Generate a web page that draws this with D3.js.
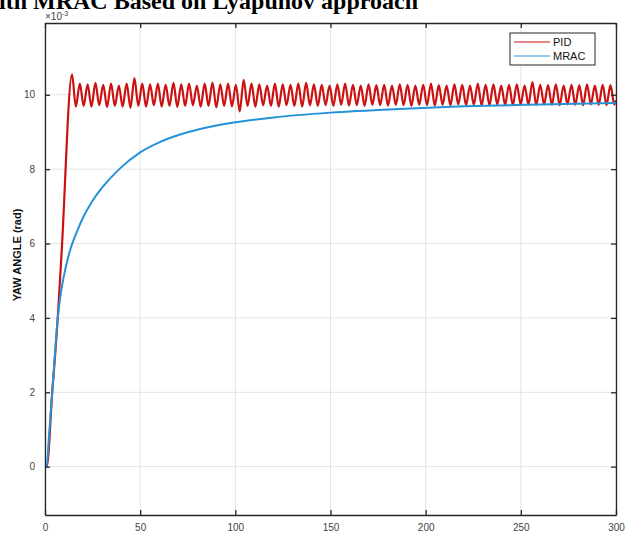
<!DOCTYPE html>
<html><head><meta charset="utf-8">
<script src="https://cdn.jsdelivr.net/npm/d3@7"></script>
<style>body{margin:0;background:#fff}svg{display:block}</style>
</head><body>
<svg id="c" width="632" height="533"></svg>
<script>
// values in units of 1e-3 rad
const xTicks = [0, 50, 100, 150, 200, 250, 300];
const yTicks = [0, 2, 4, 6, 8, 10];
const seriesNames = ["PID", "MRAC"];

// PID: start / ramp, then alternating peaks and troughs
const pidRamp = [[0, 0], [0.9, 0], [3.8, 2.0], [6.7, 4.0], [8.8, 5.83]];
const pidPeakT = [14.2,18.3,22.4,26.5,30.6,34.7,38.8,42.9,47.0,51.1,55.2,59.3,63.4,67.5,71.6,75.7,79.8,83.9,88.0,92.1,96.2,100.3,104.4,108.5,112.6,116.7,120.8,124.9,129.0,133.1,137.2,141.3,145.4,149.5,153.6,157.7,161.8,165.9,170.0,174.1,178.2,182.3,186.4,190.5,194.6,198.7,202.8,206.9,211.0,215.1,219.2,223.3,227.4,231.5,235.6,239.7,243.8,247.9,252.0,256.1,260.2,264.3,268.4,272.5,276.6,280.7,284.8,288.9,293.0,297.1];
const pidPeakY = [10.55,10.3,10.28,10.32,10.27,10.3,10.25,10.3,10.45,10.3,10.28,10.3,10.27,10.32,10.28,10.3,10.25,10.3,10.33,10.28,10.3,10.27,10.4,10.3,10.28,10.25,10.3,10.28,10.27,10.3,10.32,10.28,10.27,10.25,10.28,10.3,10.27,10.25,10.28,10.26,10.27,10.25,10.28,10.27,10.25,10.27,10.3,10.26,10.25,10.28,10.27,10.25,10.3,10.27,10.28,10.25,10.27,10.28,10.25,10.34,10.27,10.26,10.28,10.25,10.27,10.26,10.28,10.25,10.27,10.26];
const pidTroughT = [16.2,20.3,24.4,28.5,32.6,36.7,40.8,44.9,49.0,53.1,57.2,61.3,65.4,69.5,73.6,77.7,81.8,85.9,90.0,94.1,98.2,102.3,106.4,110.5,114.6,118.7,122.8,126.9,131.0,135.1,139.2,143.3,147.4,151.5,155.6,159.7,163.8,167.9,172.0,176.1,180.2,184.3,188.4,192.5,196.6,200.7,204.8,208.9,213.0,217.1,221.2,225.3,229.4,233.5,237.6,241.7,245.8,249.9,254.0,258.1,262.2,266.3,270.4,274.5,278.6,282.7,286.8,290.9,295.0,299.1];
const pidTroughY = [9.68,9.7,9.68,9.72,9.67,9.7,9.68,9.65,9.7,9.68,9.72,9.68,9.7,9.67,9.7,9.72,9.68,9.7,9.66,9.7,9.69,9.55,9.7,9.68,9.72,9.7,9.68,9.72,9.7,9.68,9.72,9.7,9.72,9.7,9.73,9.71,9.72,9.7,9.73,9.72,9.71,9.73,9.72,9.7,9.73,9.72,9.71,9.73,9.72,9.74,9.72,9.73,9.71,9.72,9.74,9.73,9.72,9.74,9.73,9.72,9.74,9.73,9.72,9.74,9.73,9.72,9.74,9.73,9.72,9.74];
const pidEnd = [[300, 9.85]];

// MRAC response points
const mracT = [0, 0.9, 2, 3.8, 5, 6.7, 8, 10, 12, 14, 17, 20, 25, 30, 39, 50, 60, 71, 81.5, 100, 120, 150, 186, 220, 260, 300];
const mracY = [0, 0, 0.75, 2.0, 2.85, 4.0, 4.55, 5.15, 5.6, 5.95, 6.35, 6.7, 7.15, 7.5, 8.0, 8.45, 8.72, 8.93, 9.08, 9.26, 9.39, 9.52, 9.62, 9.69, 9.74, 9.78];

const m = {left: 45, right: 616, top: 23, bottom: 515};
const svg = d3.select("#c");

const x = d3.scaleLinear().domain([0, 300]).range([m.left, m.right]);
const y = d3.scaleLinear().domain([-1.3, 11.93]).range([m.bottom, m.top]);

// title (partly clipped at the top, as in the reference)
svg.append("text").attr("x", 418).attr("y", 9).attr("text-anchor", "end")
  .attr("font-family", "Liberation Serif, Times New Roman, serif")
  .attr("font-weight", "bold").attr("font-size", 24).attr("fill", "#000")
  .text("with MRAC Based on Lyapunov approach");

// grid
const g = svg.append("g");
g.selectAll(".gx").data(xTicks).join("line")
  .attr("x1", d => x(d)).attr("x2", d => x(d)).attr("y1", m.top).attr("y2", m.bottom)
  .attr("stroke", "#e3e3e3").attr("stroke-width", 1);
g.selectAll(".gy").data(yTicks).join("line")
  .attr("y1", d => y(d)).attr("y2", d => y(d)).attr("x1", m.left).attr("x2", m.right)
  .attr("stroke", "#e3e3e3").attr("stroke-width", 1);

// data lines
svg.append("clipPath").attr("id", "clip").append("rect")
  .attr("x", m.left).attr("y", m.top).attr("width", m.right - m.left).attr("height", m.bottom - m.top);

const pid = pidRamp.slice();
pidPeakT.forEach((t, i) => { pid.push([t, pidPeakY[i]]); pid.push([pidTroughT[i], pidTroughY[i]]); });
pidEnd.forEach(p => pid.push(p));
const mrac = mracT.map((t, i) => [t, mracY[i]]);

const line = d3.line().x(d => x(d[0])).y(d => y(d[1])).curve(d3.curveMonotoneX);

const colors = {PID: "#cc1111", MRAC: "#2492d8"};
const plotG = svg.append("g").attr("clip-path", "url(#clip)");
plotG.append("path").datum(pid).attr("d", line).attr("fill", "none")
  .attr("stroke", colors.PID).attr("stroke-width", 2.2);
plotG.append("path").datum(mrac).attr("d", line).attr("fill", "none")
  .attr("stroke", colors.MRAC).attr("stroke-width", 2);

// axes (MATLAB box with inward ticks)
const axCol = "#262626";
const tickFont = "Liberation Sans, Arial, Helvetica, sans-serif";
const xAxisB = d3.axisBottom(x).tickValues(xTicks).tickSizeInner(-5).tickSizeOuter(0).tickPadding(9);
const xAxisT = d3.axisTop(x).tickValues(xTicks).tickSizeInner(-5).tickSizeOuter(0).tickFormat("");
const yAxisL = d3.axisLeft(y).tickValues(yTicks).tickSizeInner(-5).tickSizeOuter(0).tickPadding(10);
const yAxisR = d3.axisRight(y).tickValues(yTicks).tickSizeInner(-5).tickSizeOuter(0).tickFormat("");

function styleAxis(sel) {
  sel.selectAll("path").attr("stroke", axCol).attr("stroke-width", 1.3);
  sel.selectAll("line").attr("stroke", axCol).attr("stroke-width", 1.3);
  sel.selectAll("text").attr("fill", "#444").attr("font-family", tickFont).attr("font-size", 10);
}
svg.append("g").attr("transform", `translate(0,${m.bottom})`).call(xAxisB).call(styleAxis);
svg.append("g").attr("transform", `translate(0,${m.top})`).call(xAxisT).call(styleAxis);
svg.append("g").attr("transform", `translate(${m.left},0)`).call(yAxisL).call(styleAxis);
svg.append("g").attr("transform", `translate(${m.right},0)`).call(yAxisR).call(styleAxis);

// exponent label
const ex = svg.append("text").attr("x", 45).attr("y", 20).attr("font-family", tickFont)
  .attr("font-size", 10).attr("fill", "#444");
ex.append("tspan").text("\u00d710");
ex.append("tspan").attr("dy", -4).attr("font-size", 7).text("-3");

// y label
svg.append("text").attr("transform", "translate(21,255) rotate(-90)")
  .attr("text-anchor", "middle").attr("font-family", tickFont).attr("font-weight", "bold")
  .attr("font-size", 11).attr("fill", "#111").text("YAW ANGLE (rad)");

// legend
const lg = svg.append("g");
lg.append("rect").attr("x", 510).attr("y", 33).attr("width", 85).attr("height", 32)
  .attr("fill", "#fff").attr("stroke", "#262626").attr("stroke-width", 1);
seriesNames.forEach((n, i) => {
  const yy = 42 + i * 14;
  lg.append("line").attr("x1", 514).attr("x2", 550).attr("y1", yy).attr("y2", yy)
    .attr("stroke", colors[n]).attr("stroke-width", 1.2);
  lg.append("text").attr("x", 553).attr("y", yy + 4).attr("font-family", tickFont)
    .attr("font-size", 11).attr("fill", "#111").text(n);
});
</script>
</body></html>
